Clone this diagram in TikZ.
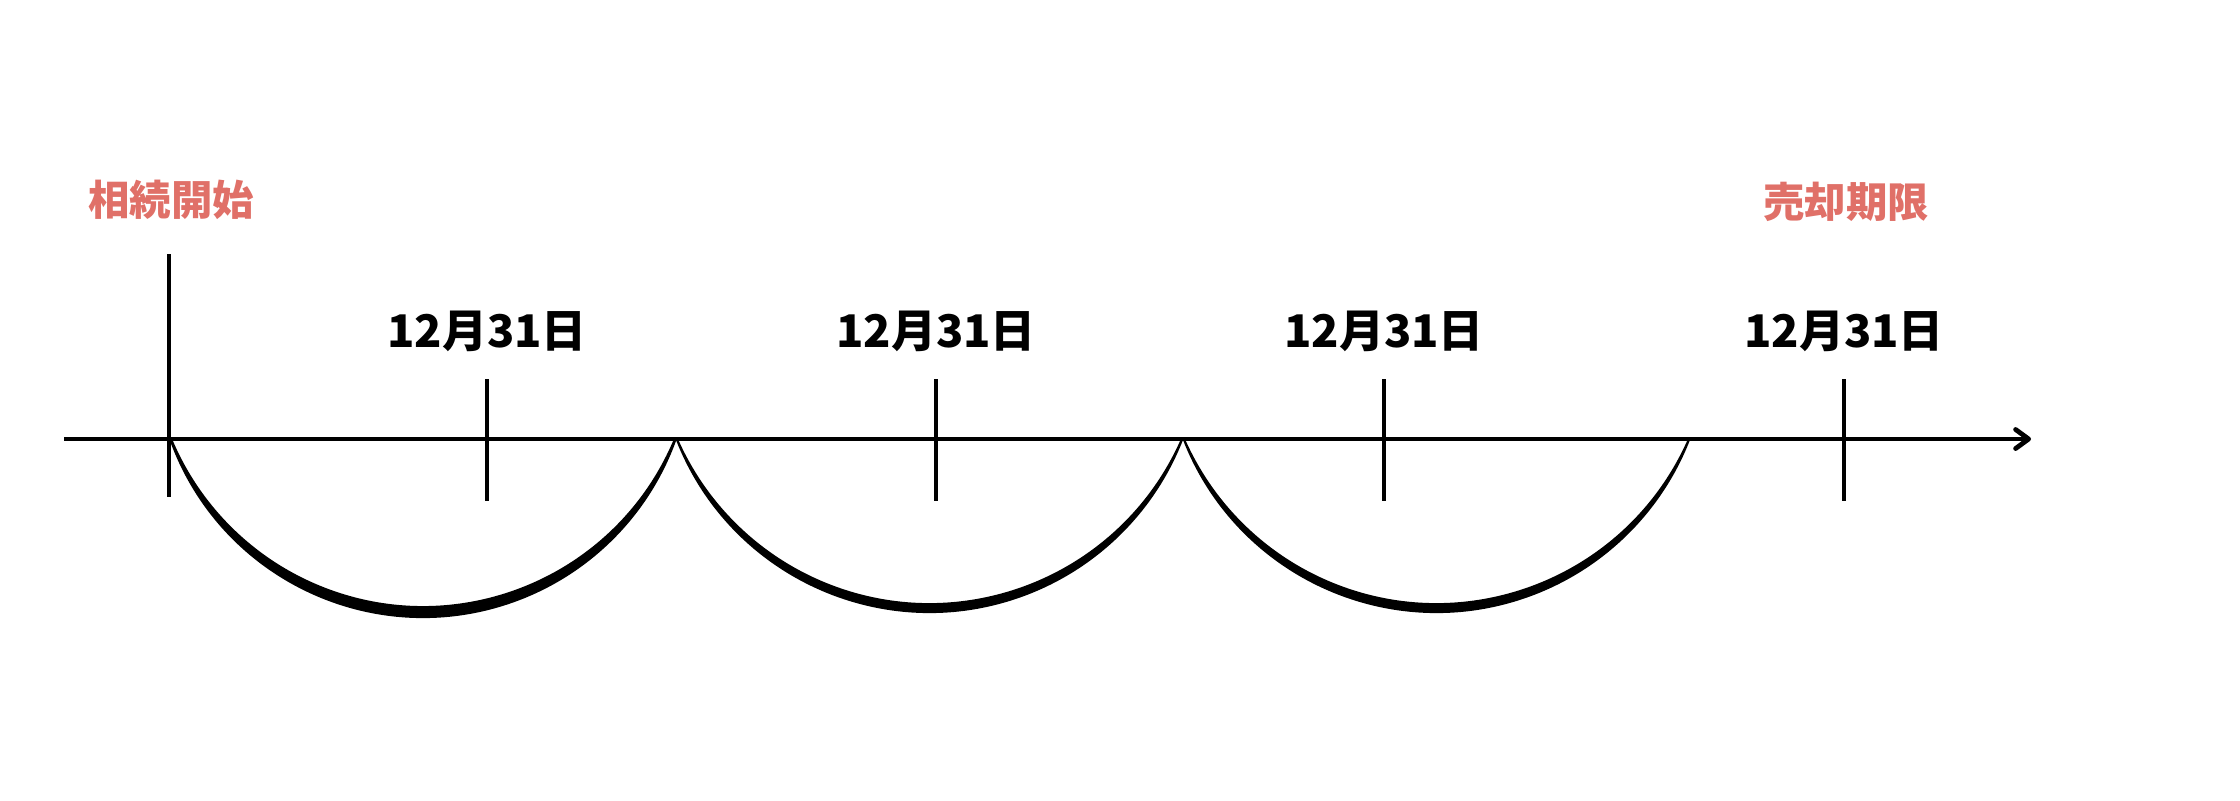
\documentclass[tikz,border=0pt]{standalone}
\usepackage{fontspec}
\newfontfamily\cjk{Noto Sans CJK JP}
\usetikzlibrary{arrows.meta}
\definecolor{salmon}{RGB}{224,112,104}
\tikzset{
  axisline/.style={line width=2.4pt,-{Straight Barb[length=6.5pt,width=9.5pt,round]}},
  tickline/.style={line width=2.4pt},
  datelabel/.style={inner sep=0pt,font=\cjk\bfseries\fontsize{22.5pt}{26pt}\selectfont,text=black},
  eventlabel/.style={inner sep=0pt,font=\cjk\bfseries\fontsize{20.7pt}{24pt}\selectfont,text=salmon},
  bowl/.style={fill=black}
}
\begin{document}
\begin{tikzpicture}[x=0.5pt,y=-0.5pt]
\useasboundingbox[fill=white] (0,0) rectangle (2240,800);
% axis
\coordinate (axL) at (64,439);
\coordinate (axR) at (2031,439);
\draw[axisline] (axL) -- (axR);
% start tick
\coordinate (s0t) at (169,254);
\coordinate (s0b) at (169,497);
\draw[tickline] (s0t) -- (s0b);
% year-end ticks
\foreach \n/\x in {1/487,2/936,3/1384,4/1844}{
  \coordinate (t\n t) at (\x,379);
  \coordinate (t\n b) at (\x,501);
  \draw[tickline] (t\n t) -- (t\n b);
  \node[datelabel] (d\n) at (\x,331) {12月31日};
}
% labels
\node[eventlabel] (start) at (171,200) {相続開始};
\node[eventlabel] (limit) at (1846,202) {売却期限};
% bowls (circular arcs, thicker at the bottom)
\coordinate (j0) at (170,441);
\coordinate (j1) at (676,440);
\coordinate (j2) at (1183,440);
\coordinate (j3) at (1690,440);
\fill[bowl] (j0) arc[start angle=159.96, end angle=20.04, radius=269.3]
  -- (j1) -- ++(-2.5,0) arc[start angle=22.94, end angle=157.06, radius=272.0] -- cycle;
\fill[bowl] (j1) arc[start angle=158.63, end angle=21.37, radius=272.2]
  -- (j2) -- ++(-2.5,0) arc[start angle=24.0, end angle=156.0, radius=274.8] -- cycle;
\fill[bowl] (j2) arc[start angle=158.63, end angle=21.37, radius=272.2]
  -- (j3) -- ++(-2.5,0) arc[start angle=24.0, end angle=156.0, radius=274.8] -- cycle;
\end{tikzpicture}
\end{document}
